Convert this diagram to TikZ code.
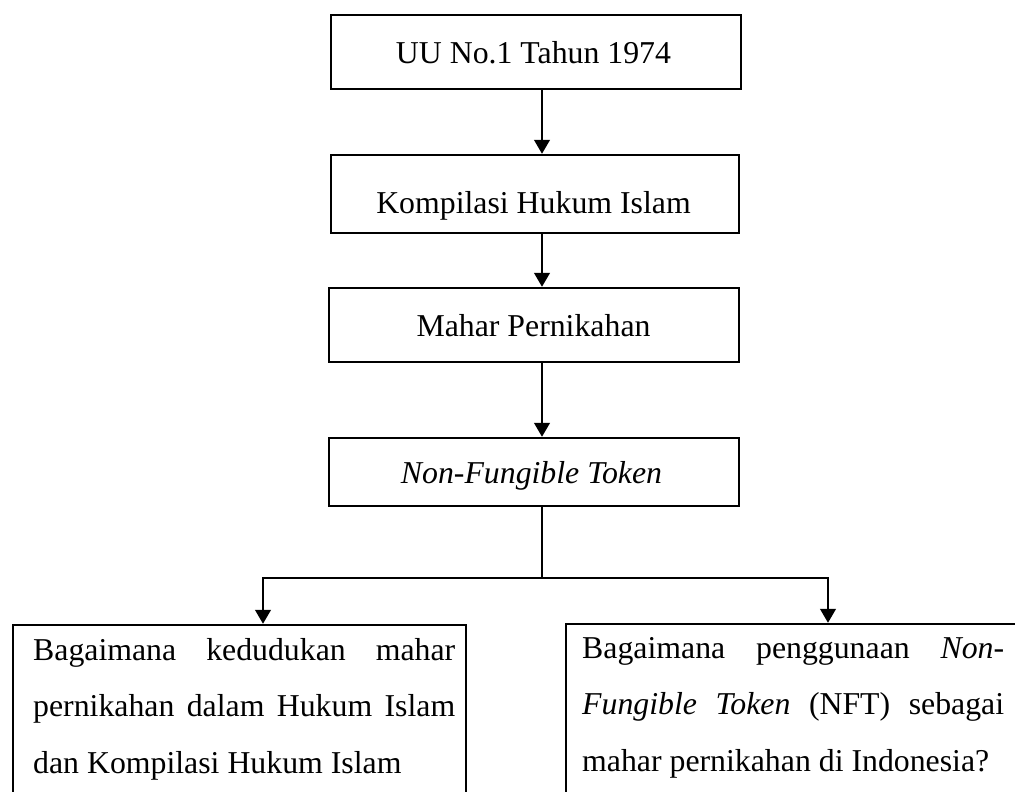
\documentclass[tikz,border=0pt]{standalone}
\usepackage{fontspec}
\setmainfont{Liberation Serif}
\usetikzlibrary{arrows.meta}
\begin{document}
\begin{tikzpicture}[x=1pt,y=-1pt,
  box/.style={draw, line width=2.5pt, rectangle, inner sep=0pt},
  lbl/.style={inner sep=0pt, anchor=base, font=\fontsize{31.8}{38}\selectfont},
  conn/.style={line width=1.3pt},
  arr/.style={conn, -{Triangle[width=16pt,length=14pt]}},
  para/.style={inner sep=0pt, anchor=base west, font=\fontsize{31.8}{56.5}\selectfont}]
\useasboundingbox (0,0) rectangle (1015,792);
\clip (0,0) rectangle (1015,792);
\coordinate (sp) at (542,0);
\coordinate (cl) at (263,0);
\coordinate (cr) at (828,0);
% boxes
\node[box, minimum width=410pt, minimum height=74pt] (b1) at (536,52) {};
\node[box, minimum width=408pt, minimum height=78pt] (b2) at (535,194) {};
\node[box, minimum width=410pt, minimum height=74pt] (b3) at (534,325) {};
\node[box, minimum width=410pt, minimum height=68pt] (b4) at (534,472) {};
\node[box, minimum width=453pt, minimum height=205pt] (q1) at (239.5,727.5) {};
\node[box, minimum width=494pt, minimum height=206pt] (q2) at (813,727) {};
% texts
\node[lbl] (t1) at (533.5,63.3) {UU No.1 Tahun 1974};
\node[lbl] (t2) at (533.5,213) {Kompilasi Hukum Islam};
\node[lbl] (t3) at (533.5,336) {Mahar Pernikahan};
\node[lbl] (t4) at (531.5,483) {\itshape Non-Fungible Token};
\node[para] (p1) at (33,660) {\parbox[t]{422pt}{\hyphenpenalty=10000\rightskip=0pt\parfillskip=0pt plus 1fil
  Bagaimana kedudukan mahar\linebreak pernikahan dalam Hukum Islam\linebreak dan Kompilasi Hukum Islam}};
\node[para] (p2) at (582,658) {\parbox[t]{422pt}{\hyphenpenalty=10000
  Bagaimana penggunaan \textit{Non-}\linebreak\textit{Fungible Token} (NFT) sebagai\linebreak mahar pernikahan di Indonesia?}};
% connectors
\draw[arr] (b1.south -| sp) -- (b2.north -| sp);
\draw[arr] (b2.south -| sp) -- (b3.north -| sp);
\draw[arr] (b3.south -| sp) -- (b4.north -| sp);
\coordinate (j) at (542,578);
\draw[conn] (b4.south -| sp) -- (j);
\draw[arr] (j) -| (cl |- q1.north);
\draw[arr] (j) -| (cr |- q2.north);
\end{tikzpicture}
\end{document}
